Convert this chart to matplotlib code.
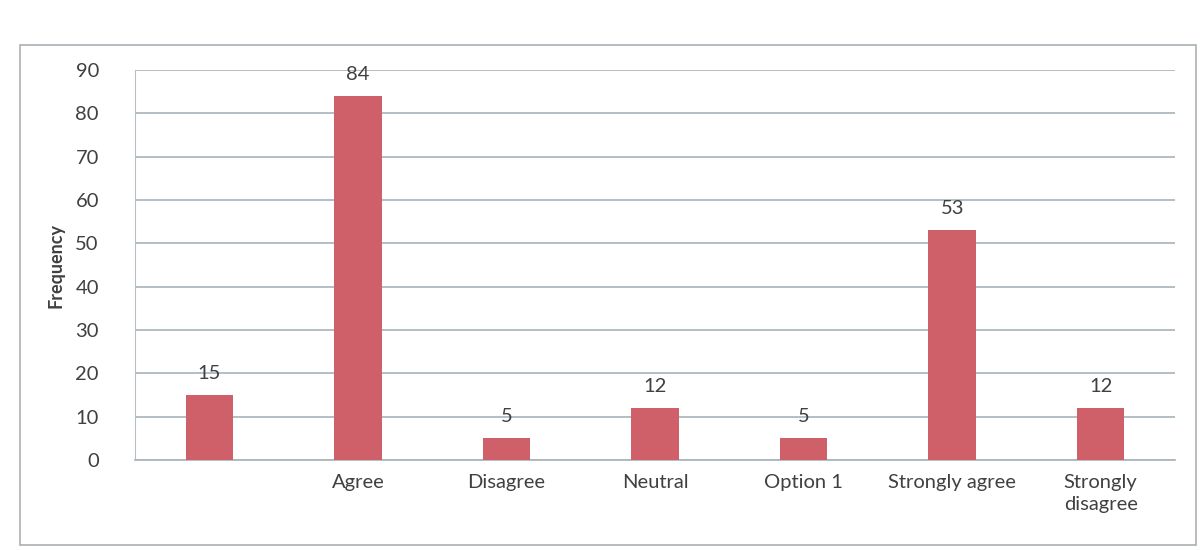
import matplotlib
matplotlib.use("Agg")
import matplotlib.pyplot as plt
from matplotlib.patches import Rectangle

categories = ["", "Agree", "Disagree", "Neutral", "Option 1", "Strongly agree", "Strongly\ndisagree"]
values = [15, 84, 5, 12, 5, 53, 12]
yticks = [0, 10, 20, 30, 40, 50, 60, 70, 80, 90]

plt.rcParams['font.family'] = ['Lato', 'DejaVu Sans']
text_color = '#404040'
bar_color = '#cf5f68'
grid_color = '#a7b4bb'

fig = plt.figure(figsize=(12.02, 5.5), dpi=100)
fig.patch.set_facecolor('white')
fig.patches.append(Rectangle((20/1202, 5/550), 1176/1202, 500/550, transform=fig.transFigure,
                             fill=False, edgecolor='#a9b0b4', linewidth=1.2))

ax = fig.add_axes([135/1202, 1 - 460/550, 1040/1202, 390/550])
x = list(range(len(categories)))
ax.bar(x, values, width=0.32, color=bar_color, zorder=3)
for xi, v in zip(x, values):
    ax.text(xi, v + 3, str(v), ha='center', va='bottom', fontsize=14.5, color=text_color)

ax.set_xlim(-0.5, len(categories) - 0.5)
ax.set_ylim(0, 90)
ax.set_yticks(yticks)
ax.set_yticklabels([str(t) for t in yticks], fontsize=14.5, color=text_color)
ax.set_xticks(x)
ax.set_xticklabels(categories, fontsize=14.5, color=text_color, linespacing=1.4)
ax.tick_params(axis='y', length=0, pad=26)
ax.tick_params(axis='x', length=0, pad=10)
ax.yaxis.grid(True, color=grid_color, linewidth=1.2, zorder=0)
ax.set_axisbelow(True)
for s in ['top', 'right']:
    ax.spines[s].set_visible(False)
ax.spines['left'].set_color('#b8c0c4')
ax.spines['bottom'].set_color(grid_color)
ax.spines['bottom'].set_linewidth(1.2)
ax.set_ylabel('Frequency', fontsize=13, fontweight='bold', color=text_color, labelpad=8)

fig.savefig('out.png', dpi=100, facecolor='white')
